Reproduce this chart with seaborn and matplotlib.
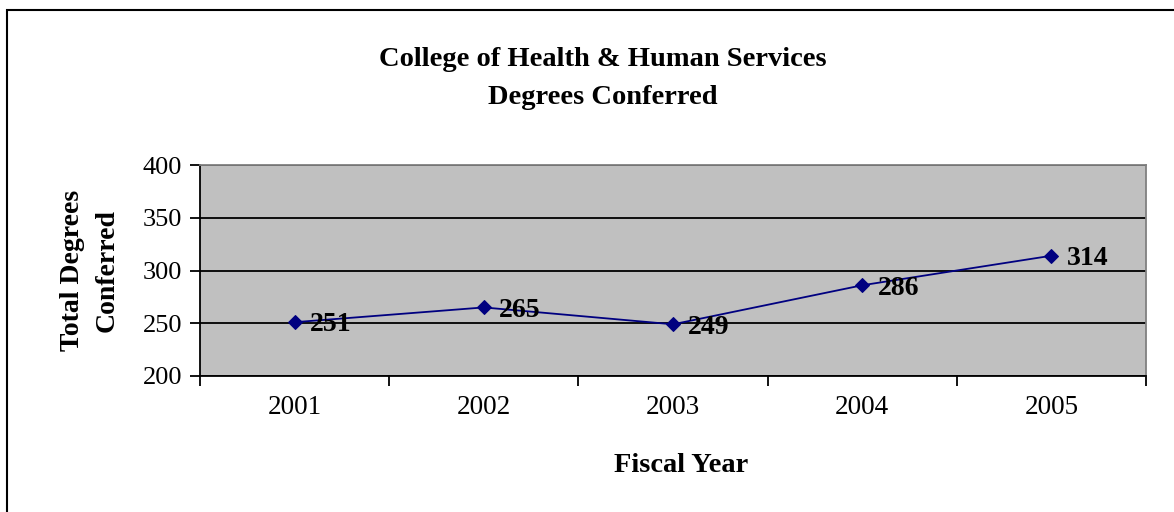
import seaborn as sns
import matplotlib.pyplot as plt
import matplotlib.patches as mpatches
import pandas as pd

# data
years = ["2001", "2002", "2003", "2004", "2005"]
degrees = [251, 265, 249, 286, 314]
y_ticks = [200, 250, 300, 350, 400]

df = pd.DataFrame({"year": years, "degrees": degrees})

sns.set_theme(style="white")
plt.rcParams['font.family'] = ['Liberation Serif', 'DejaVu Serif']
plt.rcParams['text.color'] = 'black'
plt.rcParams['xtick.color'] = 'black'
plt.rcParams['ytick.color'] = 'black'

W, H = 1174, 512
fig = plt.figure(figsize=(W / 100, H / 100), dpi=100)
ax = fig.add_axes([200 / W, 1 - 376 / H, (1146 - 200) / W, (376 - 165) / H])
ax.set_facecolor("#c0c0c0")

sns.lineplot(data=df, x=range(len(years)), y="degrees", ax=ax, color="#000080",
             linewidth=1.3, marker="D", markersize=7, markeredgecolor="#000080")

for i, v in enumerate(degrees):
    ax.annotate(str(v), (i, v), xytext=(11, -2), textcoords="offset points",
                va="center", ha="left", fontsize=20, fontweight="bold", color="black")

ax.set_xlim(-0.5, len(years) - 0.5)
ax.set_ylim(200, 400)
ax.set_yticks(y_ticks)
ax.set_yticklabels([str(t) for t in y_ticks], fontsize=19)
ax.yaxis.grid(True, color="black", linewidth=1.3)
ax.set_axisbelow(True)

# tick marks between categories, labels at category centres
ax.set_xticks([i - 0.5 for i in range(len(years) + 1)])
ax.set_xticklabels([])
ax.set_xticks(range(len(years)), minor=True)
ax.set_xticklabels(years, minor=True, fontsize=19.5)
ax.tick_params(axis="x", which="major", direction="out", length=7, width=1.3, color="black", bottom=True)
ax.tick_params(axis="x", which="minor", length=0, pad=14)
ax.tick_params(axis="y", direction="out", length=7, width=1.3, color="black", left=True, pad=6)

for s in ["left", "bottom"]:
    ax.spines[s].set_color("black")
    ax.spines[s].set_linewidth(1.3)
for s in ["top", "right"]:
    ax.spines[s].set_color("#808080")
    ax.spines[s].set_linewidth(1.3)

ax.set_xlabel("")
ax.set_ylabel("")

fig.text(603 / W, 1 - 60 / H, "College of Health & Human Services", ha="center", va="center",
         fontsize=20.5, fontweight="bold")
fig.text(603 / W, 1 - 97 / H, "Degrees Conferred", ha="center", va="center",
         fontsize=20.5, fontweight="bold")
fig.text(681 / W, 1 - 465 / H, "Fiscal Year", ha="center", va="center",
         fontsize=20.5, fontweight="bold")
fig.text(90 / W, 1 - 270 / H, "Total Degrees\nConferred", ha="center", va="center",
         rotation=90, fontsize=20, fontweight="bold", linespacing=1.5)

# outer chart border (only left and top edges visible)
fig.patches.append(mpatches.Rectangle((7 / W, -0.1), 1.2, 1 - 10 / H + 0.1,
                                      transform=fig.transFigure, fill=False,
                                      edgecolor="black", linewidth=1.5))

fig.savefig("out.png", dpi=100)
